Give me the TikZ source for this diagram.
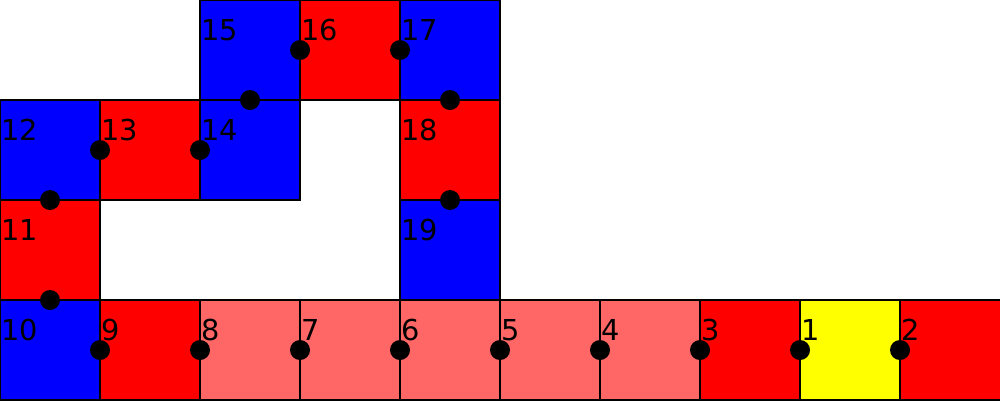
\documentclass[tikz,border=0pt]{standalone}
\usepackage{fontspec}
\setmainfont{DejaVu Sans}
\usetikzlibrary{calc}
\definecolor{cblue}{HTML}{0000FF}
\definecolor{cred}{HTML}{FF0000}
\definecolor{clight}{HTML}{FF6666}
\definecolor{cyellow}{HTML}{FFFF00}
\tikzset{
  sq/.style={draw=black, line width=0.3pt, minimum size=1cm, inner sep=0pt, outer sep=0pt, fill=#1},
  dotnode/.style={circle, fill=black, minimum size=0.2cm, inner sep=0pt},
  lbl/.style={anchor=base west, inner sep=0pt, font=\fontsize{8.2}{10}\selectfont}
}
\begin{document}
\begin{tikzpicture}
\useasboundingbox (0,0) rectangle (10,4);
% bottom row
\node[sq=cblue]   (s10) at (0.5,0.5) {};
\node[sq=cred]    (s9)  at (1.5,0.5) {};
\node[sq=clight]  (s8)  at (2.5,0.5) {};
\node[sq=clight]  (s7)  at (3.5,0.5) {};
\node[sq=clight]  (s6)  at (4.5,0.5) {};
\node[sq=clight]  (s5)  at (5.5,0.5) {};
\node[sq=clight]  (s4)  at (6.5,0.5) {};
\node[sq=cred]    (s3)  at (7.5,0.5) {};
\node[sq=cyellow] (s1)  at (8.5,0.5) {};
\node[sq=cred]    (s2)  at (9.5,0.5) {};
% second row
\node[sq=cred]    (s11) at (0.5,1.5) {};
\node[sq=cblue]   (s19) at (4.5,1.5) {};
% third row
\node[sq=cblue]   (s12) at (0.5,2.5) {};
\node[sq=cred]    (s13) at (1.5,2.5) {};
\node[sq=cblue]   (s14) at (2.5,2.5) {};
\node[sq=cred]    (s18) at (4.5,2.5) {};
% top row
\node[sq=cblue]   (s15) at (2.5,3.5) {};
\node[sq=cred]    (s16) at (3.5,3.5) {};
\node[sq=cblue]   (s17) at (4.5,3.5) {};
% dots
\foreach \a/\b in {10/9,9/8,8/7,7/6,6/5,5/4,4/3,3/1,1/2,10/11,11/12,12/13,13/14,14/15,15/16,16/17,17/18,18/19}
  \node[dotnode] (d\a-\b) at ($(s\a)!0.5!(s\b)$) {};
% labels
\foreach \n in {1,...,19}
  \node[lbl] (l\n) at ($(s\n.north west)+(0.005,-0.4)$) {\n};
\end{tikzpicture}
\end{document}
